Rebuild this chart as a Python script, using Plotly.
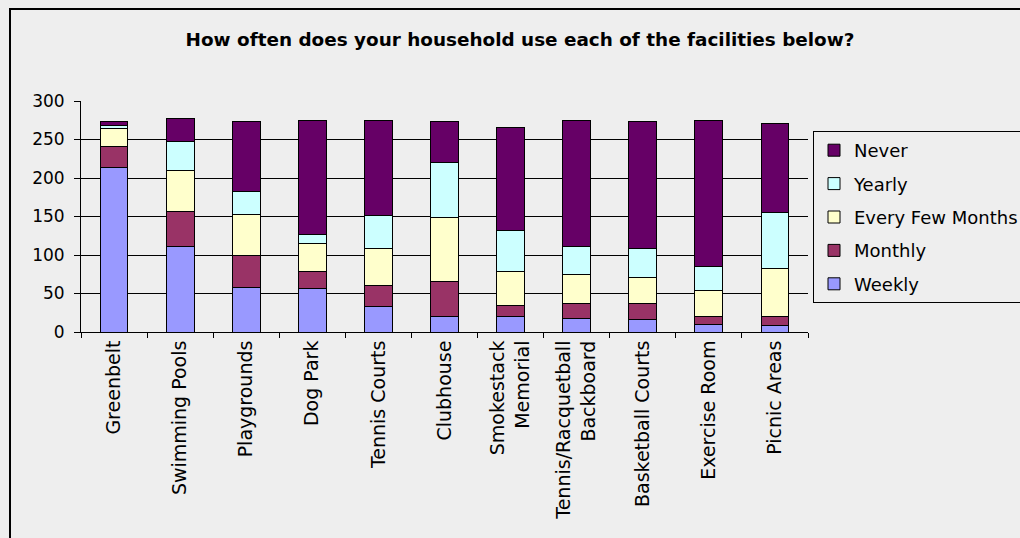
import plotly.graph_objects as go

categories = ["Greenbelt", "Swimming Pools", "Playgrounds", "Dog Park", "Tennis Courts",
              "Clubhouse", "Smokestack<br>Memorial", "Tennis/Racquetball<br>Backboard",
              "Basketball Courts", "Exercise Room", "Picnic Areas"]
weekly = [213, 111, 58, 56, 33, 20, 20, 18, 16, 10, 8]
monthly = [28, 46, 42, 22, 28, 45, 15, 19, 21, 10, 12]
every_few_months = [23, 53, 53, 37, 48, 84, 43, 38, 34, 34, 63]
yearly = [4, 37, 30, 11, 42, 71, 54, 36, 37, 31, 72]
never = [6, 30, 90, 149, 124, 53, 133, 164, 165, 190, 116]

series = [
    ("Weekly", weekly, "#9999FF"),
    ("Monthly", monthly, "#993366"),
    ("Every Few Months", every_few_months, "#FFFFCC"),
    ("Yearly", yearly, "#CCFFFF"),
    ("Never", never, "#660066"),
]

W, H = 1020, 538
L, R, T, B = 81, 808, 101, 332  # plot area in pixels

def px_x(x):
    return (x - L) / (R - L)

def px_y(y):
    return (B - y) / (B - T)

fig = go.Figure()
for i, (name, vals, col) in enumerate(series):
    fig.add_trace(go.Bar(
        x=categories, y=vals, name=name, legendgroup=name,
        legendrank=1000 - i,
        marker=dict(color=col, line=dict(color="black", width=1)),
    ))

BG = "#EEEEEE"
FONT = "DejaVu Sans"

fig.update_layout(
    width=W, height=H,
    margin=dict(l=L, r=W - R, t=T, b=H - B, pad=0, autoexpand=False),
    barmode="stack", bargap=0.58,
    paper_bgcolor=BG, plot_bgcolor=BG,
    font=dict(family=FONT, size=17, color="black"),
    title=dict(text="<b>How often does your household use each of the facilities below?</b>",
               x=520 / W, xanchor="center", xref="container",
               y=1 - 40 / H, yanchor="middle", yref="container",
               font=dict(family=FONT, size=18.4, color="black")),
    legend=dict(x=813 / W, y=1 - 131 / H, xanchor="left", yanchor="top",
                xref="container", yref="container",
                traceorder="grouped", bgcolor=BG, bordercolor="black", borderwidth=1,
                font=dict(family=FONT, size=18, color="black"),
                tracegroupgap=7),
    xaxis=dict(showline=True, linecolor="black", linewidth=1, ticks="outside",
               tickson="boundaries", ticklen=5, tickcolor="black", tickangle=-90,
               tickfont=dict(family=FONT, size=19, color="black"), showgrid=False,
               automargin=False),
    yaxis=dict(range=[0, 300], dtick=50, showline=True, linecolor="black", linewidth=1,
               ticks="outside", ticklen=6, tickcolor="black", showgrid=True,
               gridcolor="black", gridwidth=1, zeroline=False, automargin=False,
               tickfont=dict(family=FONT, size=17, color="black"), ticklabelstandoff=6),
    shapes=[dict(type="rect", xref="paper", yref="paper",
                 x0=px_x(10), x1=px_x(W + 20), y0=px_y(H + 20), y1=px_y(9),
                 line=dict(color="black", width=2), fillcolor="rgba(0,0,0,0)", layer="below")],
    showlegend=True,
)

fig.write_html("out.html")
